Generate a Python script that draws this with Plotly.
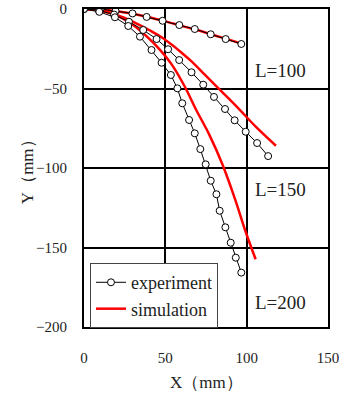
import plotly.graph_objects as go

# Experiment series (X mm, Y mm)
exp100_x = [0, 10.2, 19.4, 29.8, 38.5, 48.3, 58.6, 68.1, 77.9, 87.1, 96.7]
exp100_y = [0, 0, -1.3, -2.8, -5.0, -7.4, -10.1, -12.6, -15.9, -18.9, -22.0]

exp150_x = [0, 9.0, 18.5, 27.6, 36.4, 44.6, 51.7, 58.5, 66.1, 73.3, 79.9, 86.7, 92.6, 99.4, 106.4, 113.2]
exp150_y = [0, -0.8, -3.5, -8.0, -13.2, -18.9, -25.3, -32.1, -39.8, -47.6, -55.3, -62.9, -70.0, -77.2, -84.3, -92.5]

exp200_x = [0, 9.4, 19.0, 27.2, 34.4, 41.5, 47.7, 53.4, 57.4, 60.4, 64.6, 68.1, 71.5, 74.8, 77.9, 81.4, 83.4, 86.9, 90.2, 93.3, 96.7]
exp200_y = [0, -1.8, -5.2, -10.7, -17.4, -25.8, -33.8, -41.5, -49.9, -59.3, -69.8, -78.2, -88.1, -97.7, -108.0, -116.5, -126.9, -137.3, -147.0, -156.4, -165.8]

# Simulation series
sim100_x = [0, 10, 20, 30, 40, 50, 60, 70, 80, 90, 97]
sim100_y = [0, -0.3, -1.4, -3.0, -5.2, -7.8, -10.6, -13.4, -16.5, -19.6, -22.0]

sim150_x = [0, 10, 20, 30, 40, 47, 54, 60, 66.3, 74.4, 84.7, 94.9, 105.1, 118.0]
sim150_y = [0, -1.0, -3.8, -7.9, -13.2, -17.3, -22.5, -27.5, -33.1, -41.5, -52.0, -62.5, -73.5, -86.0]

sim200_x = [0, 10, 20, 30, 40, 47, 54, 62, 69, 77, 85, 93, 99, 105.5]
sim200_y = [0, -0.9, -4.0, -9.9, -18.6, -26.0, -35.0, -48.9, -63.5, -79.0, -97.5, -120.0, -139.0, -157.4]

x_ticks = [0, 50, 100, 150]
y_ticks = [0, -50, -100, -150, -200]
labels = ["L=100", "L=150", "L=200"]
label_y = [-38.4, -113.8, -184.9]

FONT = "Liberation Serif, DejaVu Serif, serif"

fig = go.Figure()

sims = [(sim100_x, sim100_y), (sim150_x, sim150_y), (sim200_x, sim200_y)]
for i, (sx, sy) in enumerate(sims):
    fig.add_trace(go.Scatter(
        x=sx, y=sy, mode="lines", line=dict(color="#ff0000", width=2.5, shape="spline"),
        name="simulation", showlegend=(i == 0), legendrank=2))

exps = [(exp100_x, exp100_y), (exp150_x, exp150_y), (exp200_x, exp200_y)]
for i, (ex, ey) in enumerate(exps):
    fig.add_trace(go.Scatter(
        x=ex, y=ey, mode="lines+markers", line=dict(color="black", width=1),
        marker=dict(symbol="circle", size=7, color="white", line=dict(color="black", width=1)),
        name="experiment", showlegend=(i == 0), legendrank=1))

annotations = []
for t, ly in zip(labels, label_y):
    annotations.append(dict(x=103.7, y=ly, xref="x", yref="y", text=t, showarrow=False,
                            xanchor="left", yanchor="middle", font=dict(family=FONT, size=19, color="#222")))
annotations.append(dict(x=0.5, y=-0.176, xref="paper", yref="paper", text="X（mm）", showarrow=False,
                        xanchor="center", yanchor="middle", font=dict(family=FONT, size=17, color="#222")))
annotations.append(dict(x=-0.233, y=0.5, xref="paper", yref="paper", text="Y（mm）", showarrow=False,
                        textangle=-90, xanchor="center", yanchor="middle", font=dict(family=FONT, size=17, color="#222")))

fig.update_layout(
    width=344, height=396,
    margin=dict(l=84, r=15.5, t=9, b=69, autoexpand=False),
    paper_bgcolor="white", plot_bgcolor="white",
    font=dict(family=FONT, size=15, color="#222"),
    showlegend=True,
    legend=dict(x=0.0245, y=0.201, xanchor="left", yanchor="top",
                bgcolor="white", bordercolor="#444", borderwidth=1,
                font=dict(family=FONT, size=18, color="#222"),
                tracegroupgap=0, itemwidth=30),
    annotations=annotations,
)
fig.update_xaxes(range=[0, 150], tickvals=x_ticks, showgrid=True, gridcolor="black", gridwidth=1.5,
                 zeroline=False, showline=True, linecolor="black", linewidth=2, mirror=True,
                 ticks="", ticklabelstandoff=16, automargin=False, tickfont=dict(family=FONT, size=15))
fig.update_yaxes(range=[-200, 0], tickvals=y_ticks, showgrid=True, gridcolor="black", gridwidth=1.5,
                 zeroline=False, showline=True, linecolor="black", linewidth=2, mirror=True,
                 ticks="", ticklabelstandoff=12, automargin=False, tickfont=dict(family=FONT, size=15))

fig.write_html("out.html", config={"displayModeBar": False},
               post_script="document.body.style.margin='0';document.body.style.overflow='hidden';")
